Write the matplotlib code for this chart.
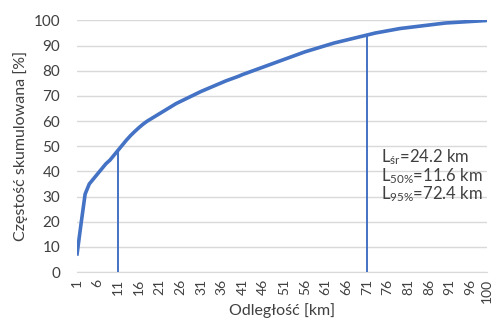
import matplotlib
matplotlib.use("Agg")
import matplotlib.pyplot as plt

plt.rcParams['font.family'] = ['Lato', 'DejaVu Sans']
plt.rcParams['mathtext.fontset'] = 'custom'
plt.rcParams['mathtext.rm'] = 'Lato'
plt.rcParams['mathtext.it'] = 'Lato:italic'

distance_km = list(range(1, 101))
cumulative_pct = [
    6.5, 19, 31, 35, 37, 39, 41, 43, 44.5, 46.5,
    48.5, 50.5, 52.5, 54.3, 55.9, 57.4, 58.8, 60, 61, 62,
    63, 64, 65, 66, 67, 67.8, 68.6, 69.4, 70.2, 71,
    71.8, 72.5, 73.2, 73.9, 74.6, 75.3, 76, 76.6, 77.2, 77.8,
    78.5, 79.1, 79.7, 80.3, 80.9, 81.5, 82.1, 82.7, 83.3, 83.9,
    84.5, 85.1, 85.7, 86.3, 86.9, 87.5, 88.0, 88.5, 89.0, 89.5,
    90.0, 90.5, 91.0, 91.4, 91.8, 92.2, 92.6, 93.0, 93.4, 93.8,
    94.2, 94.6, 95.0, 95.3, 95.6, 95.9, 96.2, 96.5, 96.8, 97.0,
    97.2, 97.4, 97.6, 97.8, 98.0, 98.2, 98.4, 98.6, 98.8, 99.0,
    99.1, 99.2, 99.3, 99.4, 99.5, 99.6, 99.7, 99.8, 99.9, 100,
]
marker_km = [11, 71]
x_ticks = list(range(1, 100, 5)) + [100]
y_ticks = list(range(0, 101, 10))
annotation_lines = [r'L$_{\mathrm{śr}}$=24.2 km', r'L$_{\mathrm{50\%}}$=11.6 km', r'L$_{\mathrm{95\%}}$=72.4 km']

blue = '#4472C4'
fig = plt.figure(figsize=(4.99, 3.2), dpi=100)
ax = fig.add_axes([0.154, 0.15, 0.822, 0.786])

ax.plot(distance_km, cumulative_pct, color=blue, lw=2.6, solid_capstyle='butt', zorder=3)
for m in marker_km:
    ax.plot([m, m], [0, cumulative_pct[distance_km.index(m)]], color=blue, lw=1.4, zorder=3)

ax.set_xlim(1, 100)
ax.set_ylim(0, 100)
ax.set_xticks(x_ticks)
ax.set_xticklabels([str(t) for t in x_ticks], rotation=90, fontsize=10, color='#404040')
ax.set_yticks(y_ticks)
ax.set_yticklabels([str(t) for t in y_ticks], fontsize=11, color='#404040')
ax.tick_params(axis='x', length=0, pad=5)
ax.tick_params(axis='y', length=0, pad=12)
ax.grid(axis='y', color='#D9D9D9', lw=1)
ax.set_axisbelow(True)
for s in ['top', 'right', 'left']:
    ax.spines[s].set_visible(False)
ax.spines['bottom'].set_color('#D9D9D9')

ax.set_xlabel('Odległość [km]', fontsize=11.5, color='#404040', va='center')
ax.xaxis.set_label_coords(0.5, -0.155)
ax.set_ylabel('Częstość skumulowana [%]', fontsize=11.5, color='#404040', va='center')
ax.yaxis.set_label_coords(-0.138, 0.5)

for i, t in enumerate(annotation_lines):
    ax.text(0.742, 0.455 - i * 0.072, t, transform=ax.transAxes, fontsize=12,
            color='#404040', va='center', ha='left')

fig.savefig('out.png', dpi=100)
